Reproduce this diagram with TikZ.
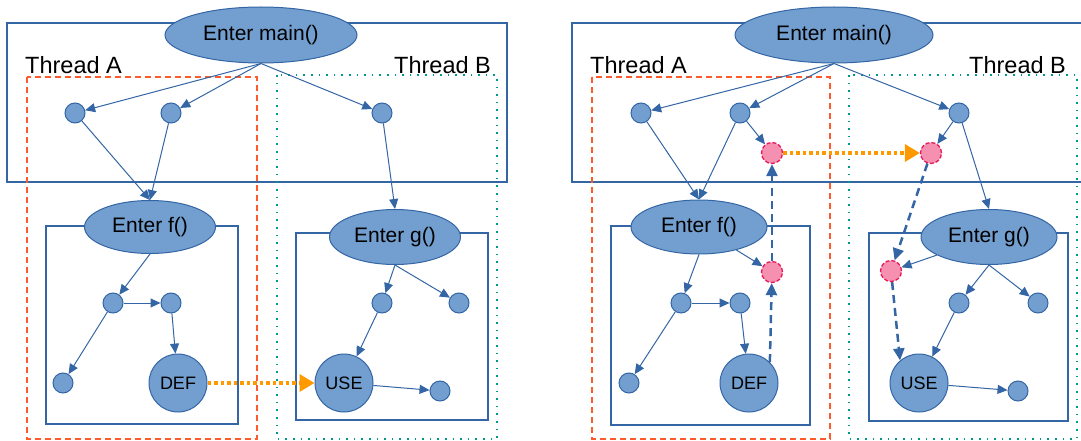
\documentclass[tikz,border=0pt]{standalone}
\usepackage{fontspec}
\setmainfont{Liberation Sans}
\usetikzlibrary{arrows.meta,shapes.geometric}
\definecolor{nfill}{HTML}{729FCF}
\definecolor{nline}{HTML}{3465A4}
\definecolor{thra}{HTML}{FF5A2B}
\definecolor{thrb}{HTML}{00998A}
\definecolor{dep}{HTML}{FF9900}
\definecolor{pfill}{HTML}{F590B0}
\definecolor{pline}{HTML}{E8185A}
\tikzset{
  fbox/.style={draw=nline,line width=1.3pt},
  tabox/.style={draw=thra,line width=1.5pt,dash pattern=on 6pt off 4pt},
  tbbox/.style={draw=thrb,line width=1.8pt,dash pattern=on 1.6pt off 6pt},
  fnode/.style={ellipse,draw=nline,fill=nfill,line width=1pt,inner sep=0pt,font=\fontsize{21}{25}\selectfont},
  sn/.style={circle,draw=nline,fill=nfill,line width=1pt,inner sep=0pt,minimum size=20pt},
  bn/.style={circle,draw=nline,fill=nfill,line width=1pt,inner sep=0pt,minimum size=58pt,font=\fontsize{18}{22}\selectfont},
  pn/.style={circle,draw=pline,fill=pfill,line width=1.3pt,dash pattern=on 4pt off 2pt,inner sep=0pt,minimum size=21pt},
  tlab/.style={anchor=base west,inner sep=0pt,font=\fontsize{23.5}{28}\selectfont},
  ed/.style={draw=nline,line width=1pt,-{Triangle[length=10pt,width=9pt]}},
  dd/.style={draw=nline,line width=2.5pt,dash pattern=on 8pt off 5pt,-{Triangle[length=12pt,width=11pt]}},
  od/.style={draw=dep,line width=3.5pt,dash pattern=on 3.5pt off 3pt,-{Triangle[length=15pt,width=17pt]}},
}
\begin{document}
\begin{tikzpicture}[x=1pt,y=-1pt]
\useasboundingbox (0,0) rectangle (1081,441);
\clip (0,0) rectangle (1081,441);
% ================= LEFT PANEL =================
\draw[fbox] (7,23) rectangle (507,182);
\draw[tabox] (27,77) rectangle (257,439);
\draw[tbbox] (277,75) rectangle (497,439);
\draw[fbox] (46,226) rectangle (238,424);
\draw[fbox] (296,233) rectangle (488,420);
\node[tlab] (lta) at (25,74) {Thread A};
\node[tlab] (ltb) at (394,74) {Thread B};
\node[fnode,minimum width=192pt,minimum height=56pt] (lmain) at (261,35) {Enter main()};
\node[sn] (la1) at (75,113) {};
\node[sn] (la2) at (171,113) {};
\node[sn] (lb1) at (382,113) {};
\node[fnode,minimum width=131pt,minimum height=53pt] (lf) at (150,227) {Enter f()};
\node[fnode,minimum width=131pt,minimum height=55pt] (lg) at (395,237) {Enter g()};
\node[sn] (lf1) at (113,303) {};
\node[sn] (lf2) at (171,303) {};
\node[sn] (lf3) at (63,383) {};
\node[bn] (ldef) at (178,383) {DEF};
\node[sn] (lg1) at (382,303) {};
\node[sn] (lg2) at (459,303) {};
\node[bn] (luse) at (344,383) {USE};
\node[sn] (lg3) at (440,391) {};
\draw[ed] (lmain.south) -- (la1);
\draw[ed] (lmain.south) -- (la2);
\draw[ed] (lmain.south) -- (lb1);
\draw[ed] (la1) -- (lf.north);
\draw[ed] (la2) -- (lf.north);
\draw[ed] (lb1) -- (lg.north);
\draw[ed] (lf.south) -- (lf1);
\draw[ed] (lf1) -- (lf2);
\draw[ed] (lf1) -- (lf3);
\draw[ed] (lf2) -- (ldef);
\draw[ed] (lg.south) -- (lg1);
\draw[ed] (lg.south) -- (lg2);
\draw[ed] (lg1) -- (luse);
\draw[ed] (luse) -- (lg3);
\draw[od] (ldef) -- (luse);
% ================= RIGHT PANEL =================
\draw[fbox] (572,23) rectangle (1090,182);
\draw[tabox] (592,77) rectangle (830,439);
\draw[tbbox] (849,75) rectangle (1077,439);
\draw[fbox] (611,226) rectangle (810,425);
\draw[fbox] (869,233) rectangle (1068,421);
\node[tlab] (rta) at (590,74) {Thread A};
\node[tlab] (rtb) at (969,74) {Thread B};
\node[fnode,minimum width=198pt,minimum height=56pt] (rmain) at (834,35) {Enter main()};
\node[sn] (ra1) at (641,113) {};
\node[sn] (ra2) at (740,113) {};
\node[sn] (rb1) at (959,113) {};
\node[pn] (rp1) at (772,153) {};
\node[pn] (rp2) at (931,153) {};
\node[fnode,minimum width=136pt,minimum height=54pt] (rf) at (699,227) {Enter f()};
\node[fnode,minimum width=136pt,minimum height=55pt] (rg) at (989,237) {Enter g()};
\node[pn] (rp4) at (772,272) {};
\node[pn] (rp3) at (891,271) {};
\node[sn] (rf1) at (681,303) {};
\node[sn] (rf2) at (740,303) {};
\node[sn] (rf3) at (629,383) {};
\node[bn] (rdef) at (749,383) {DEF};
\node[sn] (rg1) at (959,303) {};
\node[sn] (rg2) at (1038,303) {};
\node[bn] (ruse) at (919,383) {USE};
\node[sn] (rg3) at (1018,391) {};
\draw[ed] (rmain.south) -- (ra1);
\draw[ed] (rmain.south) -- (ra2);
\draw[ed] (rmain.south) -- (rb1);
\draw[ed] (ra1) -- (rf.north);
\draw[ed] (ra2) -- (rf.north);
\draw[ed] (ra2) -- (rp1);
\draw[ed] (rb1) -- (rp2);
\draw[ed] (rb1) -- (rg.north);
\draw[ed] (rf) -- (rp4);
\draw[ed] (rf.south) -- (rf1);
\draw[ed] (rf1) -- (rf2);
\draw[ed] (rf1) -- (rf3);
\draw[ed] (rf2) -- (rdef);
\draw[ed] (rg) -- (rp3);
\draw[ed] (rg.south) -- (rg1);
\draw[ed] (rg.south) -- (rg2);
\draw[ed] (rg1) -- (ruse);
\draw[ed] (ruse) -- (rg3);
\draw[dd] (rdef.45) -- (rp4);
\draw[dd] (rp4) -- (rp1);
\draw[dd] (rp2) -- (rp3);
\draw[dd] (rp3) -- (ruse.130);
\draw[od] (rp1) -- (rp2);
\end{tikzpicture}
\end{document}
